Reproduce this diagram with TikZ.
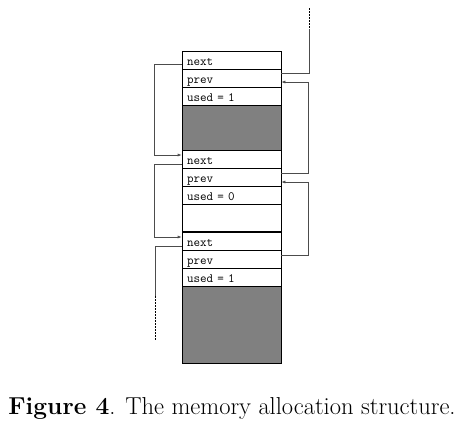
\documentclass[tikz,border=0pt]{standalone}
\usetikzlibrary{arrows.meta,calc}
\begin{document}
\begin{tikzpicture}[x=1pt,y=-1pt,
  cell/.style={draw=black,line width=0.6pt,minimum width=99pt,minimum height=18pt,inner sep=0pt,
    text width=89pt,text height=10pt,text depth=0pt,align=left,font=\fontsize{12.7}{15}\selectfont\ttfamily},
  darkcell/.style={cell,fill=black!50},
  link/.style={draw=black!70,line width=0.6pt},
  dotlink/.style={draw=black,line width=0.7pt,dash pattern=on 1.5pt off 1.5pt},
  arr/.style={link,-{Latex[length=4pt,width=3pt]}}]
\useasboundingbox (0,0) rectangle (465,424);
% block 1
\node[cell] (n1) at (231.5,60) {next};
\node[cell] (p1) at (231.5,78) {prev};
\node[cell] (u1) at (231.5,96) {used = 1};
\node[darkcell,minimum height=45pt] (g1) at (231.5,127.5) {};
% block 2
\node[cell] (n2) at (231.5,159) {next};
\node[cell] (p2) at (231.5,177) {prev};
\node[cell] (u2) at (231.5,195) {used = 0};
\node[cell,minimum height=27pt] (e2) at (231.5,218) {};
% block 3
\node[cell] (n3) at (231.5,241) {next};
\node[cell] (p3) at (231.5,259) {prev};
\node[cell] (u3) at (231.5,277) {used = 1};
\node[darkcell,minimum height=77pt] (g3) at (231.5,324.5) {};
% right side (prev pointers)
\coordinate (topdot) at (309,8);
\coordinate (topsol) at (309,29);
\draw[dotlink] (topdot) -- (topsol);
\draw[link] (topsol) |- ([yshift=5pt]p1.east);
\draw[arr] ([yshift=4pt]p2.east) -- ++(27,0) |- ([yshift=-4pt]p1.east);
\draw[arr] ([yshift=4pt]p3.east) -- ++(27,0) |- ([yshift=-5pt]p2.east);
% left side (next pointers)
\draw[arr] ([yshift=-4pt]n1.west) -- ++(-27,0) |- ([yshift=4pt]n2.west);
\draw[arr] ([yshift=-5pt]n2.west) -- ++(-27,0) |- ([yshift=4pt]n3.west);
\coordinate (botsol) at (155,296);
\coordinate (botdot) at (155,341);
\draw[link] ([yshift=-5pt]n3.west) -| (botsol);
\draw[dotlink] (botsol) -- (botdot);
% caption
\node[anchor=base,font=\fontsize{24.5}{29}\selectfont] (cap) at (232,414) {\textbf{Figure 4}. The memory allocation structure.};
\end{tikzpicture}
\end{document}
